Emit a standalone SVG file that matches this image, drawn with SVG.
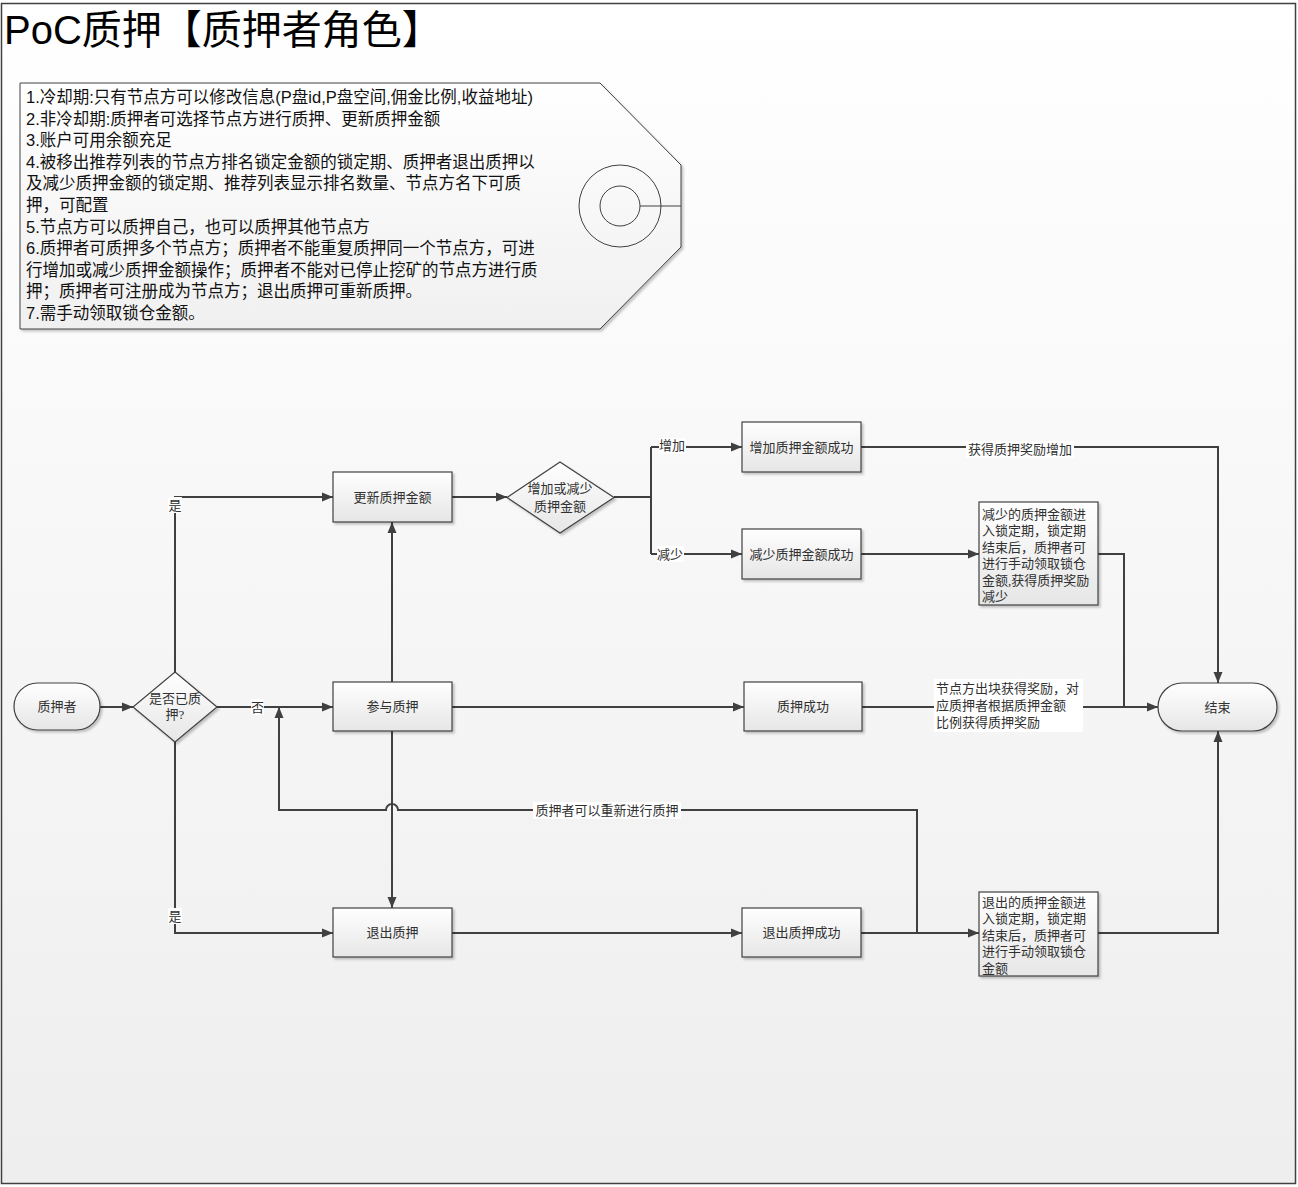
<svg xmlns="http://www.w3.org/2000/svg" width="1298" height="1187" viewBox="0 0 1298 1187">
<defs>
<linearGradient id="bg" x1="0" y1="0" x2="0" y2="1"><stop offset="0" stop-color="#ffffff"/><stop offset="1" stop-color="#eeeeee"/></linearGradient>
<linearGradient id="nodeg" x1="0" y1="0" x2="0" y2="1"><stop offset="0" stop-color="#ffffff"/><stop offset="1" stop-color="#e6e6e6"/></linearGradient>
<linearGradient id="tagg" x1="0" y1="0" x2="0" y2="1"><stop offset="0" stop-color="#ffffff"/><stop offset="1" stop-color="#f0f0f0"/></linearGradient>
<filter id="sh" x="-10%" y="-10%" width="130%" height="130%"><feDropShadow dx="2" dy="2" stdDeviation="1.2" flood-color="#000" flood-opacity="0.22"/></filter>
<marker id="arr" markerUnits="userSpaceOnUse" markerWidth="12" markerHeight="10" refX="11" refY="5" orient="auto"><path d="M0,0.5 L11,5 L0,9.5 z" fill="#404040"/></marker>
</defs>
<style>
.node{fill:url(#nodeg);stroke:#404040;stroke-width:1.2;filter:url(#sh)}
.nt{font-family:"Liberation Serif","Noto Sans CJK SC",serif;font-size:13px;fill:#303030;text-anchor:middle;dominant-baseline:central}
.bt{font-family:"Liberation Serif","Noto Sans CJK SC",serif;font-size:13px;fill:#303030}
.c{fill:none;stroke:#404040;stroke-width:2}
.ca{fill:none;stroke:#404040;stroke-width:2;marker-end:url(#arr)}
.lb{fill:#ffffff}
.tt{font-family:"Liberation Sans","Noto Sans CJK SC",sans-serif;font-size:16.5px;fill:#111}
</style>
<rect x="1.5" y="3.5" width="1294" height="1180" fill="url(#bg)" stroke="#404040" stroke-width="1.5"/>
<text x="4" y="44" font-family="Liberation Sans,'Noto Sans CJK SC',sans-serif" font-size="40" fill="#000">PoC质押【质押者角色】</text>

<g id="tag">
<path d="M20,83 H600 L681,165 V247 L600,329 H20 Z" fill="url(#tagg)" stroke="#404040" stroke-width="1" filter="url(#sh)"/>
<circle cx="620" cy="206" r="41" fill="none" stroke="#404040" stroke-width="1"/>
<circle cx="620" cy="206" r="20" fill="none" stroke="#404040" stroke-width="1"/>
<line x1="640" y1="206" x2="681" y2="206" stroke="#404040" stroke-width="1"/>
<text class="tt" x="26" y="103">1.冷却期:只有节点方可以修改信息(P盘id,P盘空间,佣金比例,收益地址)</text>
<text class="tt" x="26" y="124.6">2.非冷却期:质押者可选择节点方进行质押、更新质押金额</text>
<text class="tt" x="26" y="146.2">3.账户可用余额充足</text>
<text class="tt" x="26" y="167.8">4.被移出推荐列表的节点方排名锁定金额的锁定期、质押者退出质押以</text>
<text class="tt" x="26" y="189.4">及减少质押金额的锁定期、推荐列表显示排名数量、节点方名下可质</text>
<text class="tt" x="26" y="211">押，可配置</text>
<text class="tt" x="26" y="232.6">5.节点方可以质押自己，也可以质押其他节点方</text>
<text class="tt" x="26" y="254.2">6.质押者可质押多个节点方；质押者不能重复质押同一个节点方，可进</text>
<text class="tt" x="26" y="275.8">行增加或减少质押金额操作；质押者不能对已停止挖矿的节点方进行质</text>
<text class="tt" x="26" y="297.4">押；质押者可注册成为节点方；退出质押可重新质押。</text>
<text class="tt" x="26" y="319">7.需手动领取锁仓金额。</text>
</g>

<g id="connectors">
<path class="ca" d="M100,707 H133"/>
<path class="ca" d="M217,707 H333"/>
<path class="ca" d="M175,672 V497 H333"/>
<path class="ca" d="M175,742 V933 H333"/>
<path class="ca" d="M392,682 V522"/>
<path class="ca" d="M392,731 V908"/>
<path class="ca" d="M452,497 H507"/>
<path class="c" d="M614,497 H651"/>
<path class="c" d="M651,447 V554"/>
<path class="ca" d="M651,447 H742"/>
<path class="ca" d="M651,554 H742"/>
<path class="ca" d="M861,447 H1218 V683"/>
<path class="ca" d="M861,554 H979"/>
<path class="c" d="M1098,554 H1124 V707"/>
<path class="ca" d="M452,707 H744"/>
<path class="ca" d="M862,707 H1158"/>
<path class="ca" d="M452,933 H742"/>
<path class="ca" d="M861,933 H979"/>
<path class="ca" d="M1098,933 H1218 V731"/>
<path class="ca" d="M917,933 V810 H398 A6,6 0 0 0 386,810 H279 V707"/>
<rect class="lb" x="251" y="699" width="13" height="16"/>
<text class="nt" x="257.5" y="707">否</text>
<rect class="lb" x="168" y="497" width="14" height="16"/>
<text class="nt" x="175" y="505">是</text>
<rect class="lb" x="168" y="908" width="14" height="16"/>
<text class="nt" x="175" y="916">是</text>
<rect class="lb" x="659" y="438" width="27" height="16"/>
<text class="nt" x="672" y="445">增加</text>
<rect class="lb" x="657" y="546" width="27" height="16"/>
<text class="nt" x="670" y="554">减少</text>
<rect class="lb" x="966" y="441" width="108" height="17"/>
<text class="nt" x="1020" y="449">获得质押奖励增加</text>
<rect class="lb" x="533" y="802" width="148" height="17"/>
<text class="nt" x="607" y="810">质押者可以重新进行质押</text>
<rect class="lb" x="934" y="679" width="149" height="53"/>
<text class="bt" x="936" y="693">节点方出块获得奖励，对</text>
<text class="bt" x="936" y="710">应质押者根据质押金额</text>
<text class="bt" x="936" y="727">比例获得质押奖励</text>
</g>

<g id="n-pledger"><rect class="node" x="14" y="683" width="86" height="47" rx="23.5"/><text class="nt" x="57" y="706.5">质押者</text></g>
<g id="n-pledged"><path class="node" d="M175,672 L217,707 L175,742 L133,707 Z"/><text class="nt" x="175" y="698">是否已质</text><text class="nt" x="175" y="714">押?</text></g>
<g id="n-join"><rect class="node" x="333" y="682" width="119" height="49"/><text class="nt" x="392.5" y="706.5">参与质押</text></g>
<g id="n-update"><rect class="node" x="333" y="472" width="119" height="50"/><text class="nt" x="392.5" y="497">更新质押金额</text></g>
<g id="n-incdec"><path class="node" d="M560,462 L614,497.5 L560,533 L507,497.5 Z"/><text class="nt" x="560" y="488">增加或减少</text><text class="nt" x="560" y="506">质押金额</text></g>
<g id="n-inc"><rect class="node" x="742" y="422" width="119" height="50"/><text class="nt" x="801.5" y="447">增加质押金额成功</text></g>
<g id="n-dec"><rect class="node" x="742" y="529" width="119" height="50"/><text class="nt" x="801.5" y="554">减少质押金额成功</text></g>
<g id="n-declock"><rect class="node" x="979" y="502" width="119" height="103"/>
<text class="bt" x="982" y="519">减少的质押金额进</text>
<text class="bt" x="982" y="535.4">入锁定期，锁定期</text>
<text class="bt" x="982" y="551.8">结束后，质押者可</text>
<text class="bt" x="982" y="568.2">进行手动领取锁仓</text>
<text class="bt" x="982" y="584.6">金额,获得质押奖励</text>
<text class="bt" x="982" y="601">减少</text></g>
<g id="n-success"><rect class="node" x="744" y="682" width="118" height="49"/><text class="nt" x="803" y="706.5">质押成功</text></g>
<g id="n-end"><rect class="node" x="1158" y="683" width="119" height="48" rx="24"/><text class="nt" x="1217.5" y="707">结束</text></g>
<g id="n-exit"><rect class="node" x="333" y="908" width="119" height="49"/><text class="nt" x="392.5" y="932.5">退出质押</text></g>
<g id="n-exitok"><rect class="node" x="742" y="908" width="119" height="49"/><text class="nt" x="801.5" y="932.5">退出质押成功</text></g>
<g id="n-exitlock"><rect class="node" x="979" y="892" width="119" height="84"/>
<text class="bt" x="982" y="907">退出的质押金额进</text>
<text class="bt" x="982" y="923.4">入锁定期，锁定期</text>
<text class="bt" x="982" y="939.8">结束后，质押者可</text>
<text class="bt" x="982" y="956.2">进行手动领取锁仓</text>
<text class="bt" x="982" y="972.6">金额</text></g>
</svg>
